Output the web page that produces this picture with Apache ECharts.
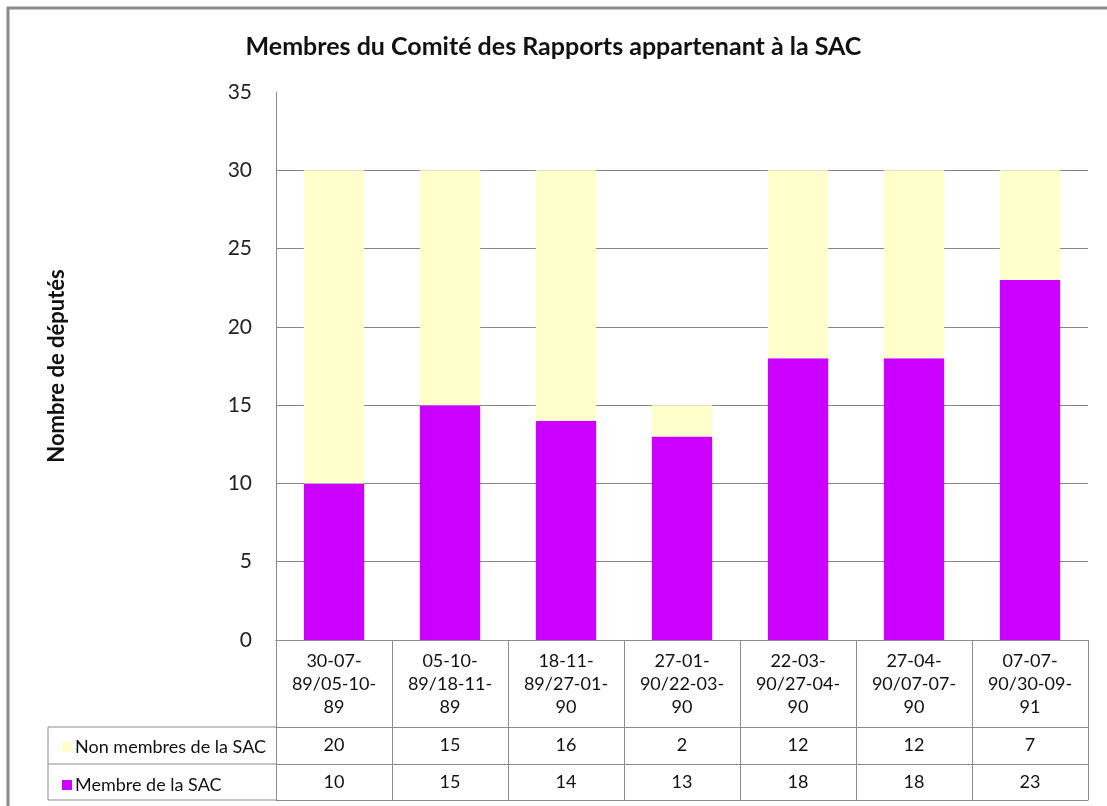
<!DOCTYPE html>
<html>
<head>
<meta charset="utf-8">
<script src="https://cdn.jsdelivr.net/npm/echarts@6/dist/echarts.min.js"></script>
<style>
  html, body { margin: 0; padding: 0; background: #fff; }
  #chart { width: 1107px; height: 806px; }
</style>
</head>
<body>
<div id="chart"></div>
<script>
// periods of the committee
const periods = [
  '30-07-89/05-10-89',
  '05-10-89/18-11-89',
  '18-11-89/27-01-90',
  '27-01-90/22-03-90',
  '22-03-90/27-04-90',
  '27-04-90/07-07-90',
  '07-07-90/30-09-91'
]
const nonMembers = [20, 15, 16, 2, 12, 12, 7]
const members = [10, 15, 14, 13, 18, 18, 23]
const yTicks = [0, 5, 10, 15, 20, 25, 30, 35]

const FONT = 'Lato'
const GRID_COLOR = '#868686'
const LINE_COLOR = '#8c8c8c'

const chart = echarts.init(document.getElementById('chart'))

// split "30-07-89/05-10-89" like Excel does: "30-07-" / "89/05-10-" / "89"
function wrapPeriod(s) {
  return s.replace(/^(\d\d-\d\d-)(\d\d\/\d\d-\d\d-)(\d\d)$/, '$1\n$2\n$3')
}

function tableAxis(values, offset, tickLen, showLabel) {
  return {
    type: 'category',
    gridIndex: 0,
    position: 'bottom',
    offset: offset,
    data: values.map(String),
    axisLine: { show: true, lineStyle: { color: LINE_COLOR, width: 1 } },
    axisTick: { show: tickLen > 0, length: tickLen, interval: 0, lineStyle: { color: LINE_COLOR } },
    axisLabel: {
      show: showLabel,
      interval: 0,
      margin: 9,
      fontFamily: FONT,
      fontSize: 18,
      color: '#111'
    },
    splitLine: { show: false }
  }
}

const option = {
  animation: false,
  backgroundColor: '#fff',
  title: {
    text: 'Membres du Comité des Rapports appartenant à la SAC',
    left: 'center',
    top: 29,
    textStyle: { fontFamily: FONT, fontSize: 25, fontWeight: 'bold', color: '#111' }
  },
  legend: {
    orient: 'vertical',
    left: 57,
    top: 733,
    itemWidth: 10,
    itemHeight: 10,
    itemGap: 20,
    icon: 'rect',
    data: ['Non membres de la SAC', 'Membre de la SAC'],
    textStyle: { fontFamily: FONT, fontSize: 18, color: '#111', lineHeight: 17, padding: [0, 0, 0, -2] }
  },
  grid: { left: 276, right: 19, top: 92, bottom: 166, containLabel: false },
  xAxis: [
    {
      type: 'category',
      data: periods,
      axisLine: { show: true, lineStyle: { color: LINE_COLOR } },
      axisTick: { show: true, length: 87, interval: 0, lineStyle: { color: LINE_COLOR } },
      axisLabel: {
        interval: 0,
        margin: 10,
        fontFamily: FONT,
        fontSize: 18,
        lineHeight: 23,
        color: '#111',
        formatter: wrapPeriod
      }
    },
    tableAxis(nonMembers, 87, 37, true),
    tableAxis(members, 124, 36, true),
    tableAxis(members, 160, 0, false)
  ],
  yAxis: {
    type: 'value',
    min: 0,
    max: 35,
    interval: 5,
    name: 'Nombre de députés',
    nameLocation: 'middle',
    nameGap: 208,
    nameRotate: 90,
    nameTextStyle: { fontFamily: FONT, fontSize: 22, fontWeight: 'bold', color: '#111' },
    axisLine: { show: true, lineStyle: { color: LINE_COLOR } },
    axisTick: { show: false },
    axisLabel: {
      margin: 24,
      fontFamily: FONT,
      fontSize: 21,
      color: '#222',
      formatter: v => (yTicks.includes(v) ? String(v) : '')
    },
    splitLine: { show: true, showMaxLine: false, lineStyle: { color: GRID_COLOR, width: 1 } }
  },
  series: [
    {
      name: 'Membre de la SAC',
      type: 'bar',
      stack: 'total',
      xAxisIndex: 0,
      barWidth: '52%',
      data: members,
      itemStyle: { color: '#cc00ff' }
    },
    {
      name: 'Non membres de la SAC',
      type: 'bar',
      stack: 'total',
      xAxisIndex: 0,
      barWidth: '52%',
      data: nonMembers,
      itemStyle: { color: '#ffffcc' }
    }
  ],
  graphic: [
    // outer chart frame
    { type: 'rect', shape: { x: 8, y: 8, width: 1110, height: 820 }, style: { fill: 'none', stroke: '#8a8a8a', lineWidth: 3 }, silent: true },
    // left header cells of the data table
    { type: 'line', shape: { x1: 48, y1: 727, x2: 276, y2: 727 }, style: { stroke: LINE_COLOR, lineWidth: 1 } },
    { type: 'line', shape: { x1: 48, y1: 764, x2: 276, y2: 764 }, style: { stroke: LINE_COLOR, lineWidth: 1 } },
    { type: 'line', shape: { x1: 48, y1: 800, x2: 276, y2: 800 }, style: { stroke: LINE_COLOR, lineWidth: 1 } },
    { type: 'line', shape: { x1: 48, y1: 727, x2: 48, y2: 800 }, style: { stroke: LINE_COLOR, lineWidth: 1 } }
  ]
}

chart.setOption(option)
window.addEventListener('resize', () => chart.resize())
</script>
</body>
</html>
